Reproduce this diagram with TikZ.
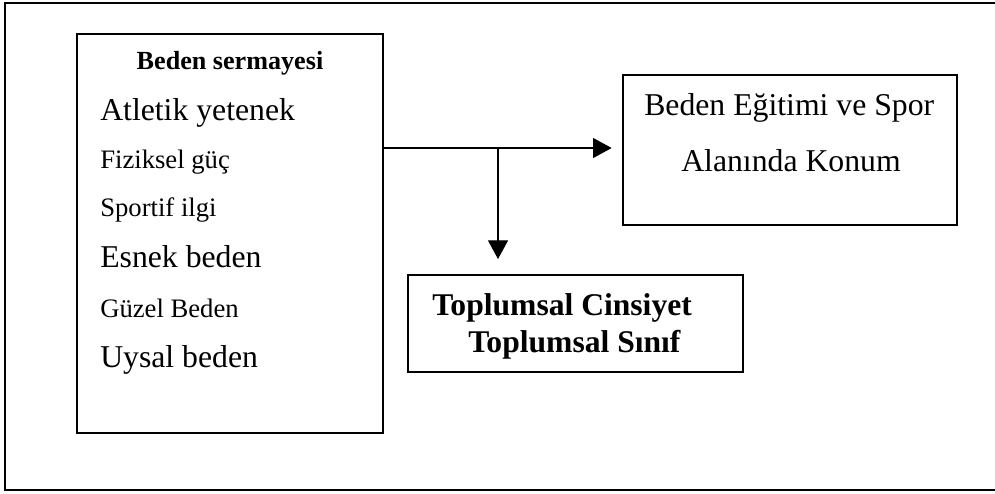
\documentclass[tikz,border=0pt]{standalone}
\usepackage{fontspec}
\setmainfont{Liberation Serif}
\usetikzlibrary{arrows.meta}
\tikzset{
  frame/.style={draw, line width=1.1pt},
  box/.style={draw, line width=2pt, inner sep=0pt},
  conn/.style={draw, line width=0.8pt, -{Triangle[length=14pt,width=15pt]}},
  txt/.style={inner sep=0pt, anchor=base west},
  big/.style={txt, font=\fontsize{23.8pt}{28pt}\selectfont},
  small/.style={txt, font=\fontsize{20pt}{24pt}\selectfont},
  boldbig/.style={txt, font=\fontsize{23.7pt}{28pt}\selectfont\bfseries},
}
\begin{document}
\begin{tikzpicture}[x=0.75pt,y=-0.75pt]
\useasboundingbox (0,0) rectangle (995,493);
% outer frame, open on the right
\draw[frame] (995,3) -- (5,3) -- (5,490) -- (995,490);

% boxes
\node[box, minimum width=229.5pt, minimum height=299.25pt] (lb) at (230,233.5) {};
\node[box, minimum width=250.5pt, minimum height=112.5pt] (rb) at (790,150) {};
\node[box, minimum width=251.25pt, minimum height=72.75pt] (bb) at (575.5,323.5) {};

% left box contents
\node[txt, anchor=base, font=\fontsize{19.6pt}{24pt}\selectfont\bfseries] (t0) at (230,69) {Beden sermayesi};
\node[big]   (t1) at (100,120) {Atletik yetenek};
\node[small] (t2) at (100,168) {Fiziksel güç};
\node[small] (t3) at (100,216) {Sportif ilgi};
\node[big]   (t4) at (100,267) {Esnek beden};
\node[small] (t5) at (100,317) {Güzel Beden};
\node[big]   (t6) at (100,367) {Uysal beden};

% right box contents
\node[big] (r1) at (644,115) {Beden Eğitimi ve Spor};
\node[big] (r2) at (681,171) {Alanında Konum};

% bottom box contents
\node[boldbig] (b1) at (432,315) {Toplumsal Cinsiyet};
\node[boldbig] (b2) at (468,352) {Toplumsal Sınıf};

% connectors
\coordinate (split) at (498,148);
\draw[conn, shorten >=7.5pt] (lb.east |- split) -- (rb.west |- split);
\draw[conn, shorten >=11pt] (split) -- (bb.north -| split);
\end{tikzpicture}
\end{document}
